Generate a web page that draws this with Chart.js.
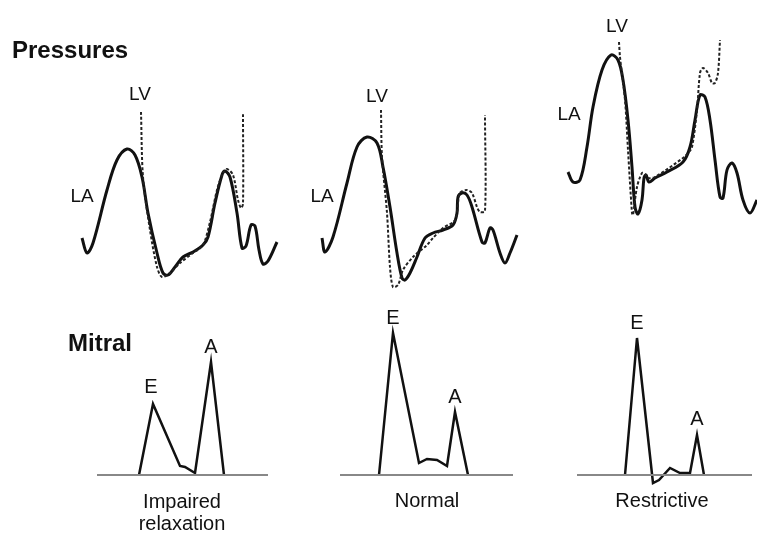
<!DOCTYPE html>
<html>
<head>
<meta charset="utf-8">
<script src="https://cdn.jsdelivr.net/npm/chart.js@4.4.1/dist/chart.umd.min.js"></script>
<style>
  html, body { margin: 0; padding: 0; background: #fff; }
  #wrap { position: relative; width: 757px; height: 534px; overflow: hidden;
          font-family: "Liberation Sans", Arial, sans-serif; color: #111; }
  canvas { position: absolute; }
  .txt { position: absolute; white-space: nowrap; line-height: 1; }
  .head { font-weight: bold; font-size: 24px; }
  .cap { font-size: 20px; transform: translateX(-50%); }
</style>
</head>
<body>
<div id="wrap">
  <canvas id="p1" width="240" height="300" style="left:60px;top:0"></canvas>
  <canvas id="p2" width="240" height="300" style="left:300px;top:0"></canvas>
  <canvas id="p3" width="217" height="300" style="left:540px;top:0"></canvas>
  <canvas id="m1" width="240" height="200" style="left:60px;top:300px"></canvas>
  <canvas id="m2" width="240" height="200" style="left:300px;top:300px"></canvas>
  <canvas id="m3" width="217" height="200" style="left:540px;top:300px"></canvas>

  <div class="txt head" style="left:12px;top:38px">Pressures</div>
  <div class="txt head" style="left:68px;top:331px">Mitral</div>
  <div class="txt cap" style="left:182px;top:491px">Impaired</div>
  <div class="txt cap" style="left:182px;top:513px">relaxation</div>
  <div class="txt cap" style="left:427px;top:490px">Normal</div>
  <div class="txt cap" style="left:662px;top:490px">Restrictive</div>
</div>
<script>
// pressure traces: [time, pressure]
const la1 = [[22,62],[27,47],[33,57],[47,110],[57,140],[67,151],[75,145],[82,123],[88,87],[97,47],[103,27],[108,25],[115,33],[123,43],[133,48],[143,55],[148,63],[155,97],[162,125],[165,129],[170,123],[177,87],[182,52],[186,54],[191,75],[195,74],[199,50],[203,36],[208,39],[217,58]];
const lv1 = [[81,188],[83,123],[90,70],[97,33],[102,23],[110,27],[120,37],[133,47],[143,55],[150,78],[157,110],[163,127],[167,131],[173,125],[178,100],[181,92],[183,96],[183,187]];
const la2 = [[22,62],[25,48],[33,63],[47,117],[57,153],[67,163],[77,157],[83,133],[90,93],[97,47],[102,22],[105,20],[110,27],[117,43],[125,62],[133,67],[143,70],[153,75],[157,87],[158,103],[162,107],[167,105],[172,93],[182,58],[185,57],[190,72],[193,70],[200,47],[205,37],[210,47],[217,65]];
const lv2 = [[81,190],[82,143],[87,87],[90,33],[93,13],[98,15],[103,30],[113,43],[127,55],[133,62],[143,72],[155,80],[160,107],[167,110],[172,107],[177,93],[180,88],[185,89],[185,185]];
const la3 = [[28,128],[33,118],[40,120],[47,153],[53,193],[62,230],[71,245],[78,240],[83,220],[88,180],[92,133],[95,93],[98,86],[102,100],[104,122],[106,125],[109,118],[115,122],[127,128],[143,138],[150,153],[155,180],[160,205],[165,203],[170,180],[175,140],[180,103],[183,102],[187,130],[192,137],[197,127],[203,100],[210,87],[217,100]];
const lv3 = [[79,258],[80,243],[85,200],[88,150],[92,87],[93,85],[97,113],[102,127],[105,126],[108,122],[115,123],[143,142],[148,147],[152,153],[157,190],[160,227],[163,232],[168,227],[172,217],[175,217],[178,227],[180,260]];

// mitral inflow velocity: [time, velocity]
const mit1 = [[79,0],[93,71],[120,9],[125,8],[135,2],[151,113],[164,0]];
const mit2 = [[79,0],[93,142],[119,12],[127,16],[137,15],[147,9],[155,63],[168,0]];
const mit3 = [[85,0],[97,137],[113,-8],[119,-5],[130,7],[140,2],[150,2],[157,40],[164,0]];
const base1 = [[37,0],[208,0]];
const base2 = [[40,0],[213,0]];
const base3 = [[37,0],[212,0]];

// trace labels [text, time, value]
const tagsP1 = [["LA",22,103],["LV",80,205]];
const tagsP2 = [["LA",22,103],["LV",77,203]];
const tagsP3 = [["LA",29,185],["LV",77,273]];
const tagsM1 = [["E",91,88],["A",151,128]];
const tagsM2 = [["E",93,157],["A",155,78]];
const tagsM3 = [["E",97,152],["A",157,56]];

const INK = "#111";

const toXY = (arr) => arr.map(p => ({ x: p[0], y: p[1] }));

const tagPlugin = {
    id: "tags",
    afterDatasetsDraw(chart, _args, opts) {
        const ctx = chart.ctx;
        const sx = chart.scales.x, sy = chart.scales.y;
        ctx.save();
        ctx.fillStyle = INK;
        ctx.font = (opts.size || 20) + 'px "Liberation Sans", Arial, sans-serif';
        ctx.textAlign = "center";
        ctx.textBaseline = "middle";
        (opts.items || []).forEach(t => {
            ctx.fillText(t[0], sx.getPixelForValue(t[1]), sy.getPixelForValue(t[2]));
        });
        ctx.restore();
    }
};

const solid = (data, w) => ({
    data: toXY(data), borderColor: INK, borderWidth: w, tension: 0.35,
    pointRadius: 0, showLine: true, fill: false
});
const dashed = (data) => ({
    data: toXY(data), borderColor: "#222", borderWidth: 2, borderDash: [3, 2],
    tension: 0.3, pointRadius: 0, showLine: true, fill: false
});
const straight = (data, color, w) => ({
    data: toXY(data), borderColor: color, borderWidth: w, tension: 0,
    pointRadius: 0, showLine: true, fill: false, borderJoinStyle: "miter"
});

const render = (id, datasets, xMax, yMin, yMax, tags, size) => {
    const el = document.getElementById(id);
    new Chart(el, {
        type: "scatter",
        data: { datasets },
        options: {
            responsive: false, animation: false,
            layout: { padding: 0 },
            plugins: { legend: { display: false }, tooltip: { enabled: false },
                       tags: { items: tags, size } },
            scales: {
                x: { type: "linear", display: false, min: 0, max: xMax },
                y: { type: "linear", display: false, min: yMin, max: yMax }
            }
        },
        plugins: [tagPlugin]
    });
};

render("p1", [dashed(lv1), solid(la1, 3)], 240, 0, 300, tagsP1, 19);
render("p2", [dashed(lv2), solid(la2, 3)], 240, 0, 300, tagsP2, 19);
render("p3", [dashed(lv3), solid(la3, 3)], 217, 0, 300, tagsP3, 19);

render("m1", [straight(base1, "#888", 2), straight(mit1, INK, 2.5)], 240, -25, 175, tagsM1, 20);
render("m2", [straight(base2, "#888", 2), straight(mit2, INK, 2.5)], 240, -25, 175, tagsM2, 20);
render("m3", [straight(base3, "#888", 2), straight(mit3, INK, 2.5)], 217, -25, 175, tagsM3, 20);
</script>
</body>
</html>
